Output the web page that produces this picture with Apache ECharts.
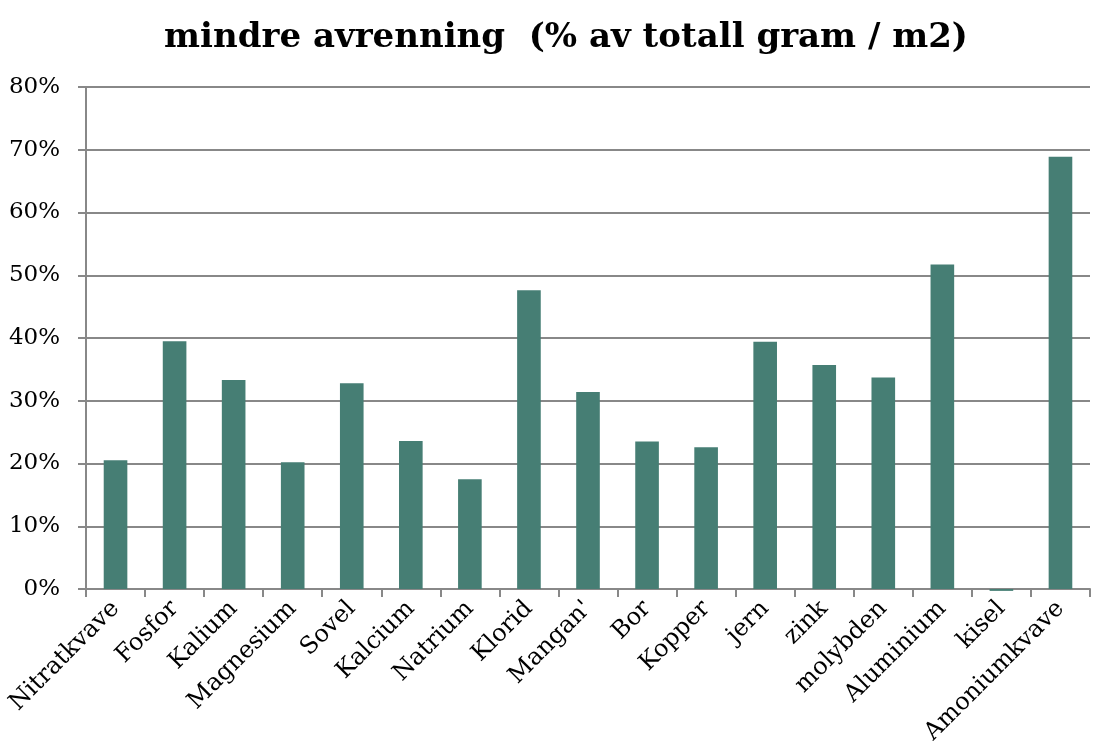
<!DOCTYPE html>
<html lang="en">
<head>
    <meta charset="UTF-8">
    <title>mindre avrenning</title>
    <script src="https://cdn.jsdelivr.net/npm/echarts@6/dist/echarts.min.js"></script>
    <style>
        html, body { margin: 0; padding: 0; background: #fff; }
    </style>
</head>
<body>
<div id="my" style="width: 1094px;height: 749px;"></div>
<script>
    // kategorier og verdier (% av totall gram / m2)
    var stoffer = ['Nitratkvave', 'Fosfor', 'Kalium', 'Magnesium', 'Sovel', 'Kalcium', 'Natrium', 'Klorid',
        "Mangan'", 'Bor', 'Kopper', 'jern', 'zink', 'molybden', 'Aluminium', 'kisel', 'Amoniumkvave']
    var verdier = [20.5, 39.5, 33.3, 20.2, 32.8, 23.6, 17.5, 47.6, 31.4, 23.5, 22.6, 39.4, 35.7, 33.7, 51.7, -0.3, 68.9]

    var mCharts = echarts.init(document.getElementById('my'))
    var font = 'DejaVu Serif'
    var option = {
        animation: false,
        title: {
            text: 'mindre avrenning  (% av totall gram / m2)',
            left: 561,
            top: 16,
            textAlign: 'center',
            textStyle: { fontFamily: font, fontWeight: 'bold', fontSize: 34, color: '#000' }
        },
        grid: { left: 86, right: 4, top: 87, bottom: 160 },
        xAxis: {
            type: 'category',
            data: stoffer,
            axisLine: { lineStyle: { color: '#888', width: 2 } },
            axisTick: { show: true, length: 8, lineStyle: { color: '#888', width: 2 } },
            axisLabel: {
                rotate: 45,
                interval: 0,
                margin: 16,
                fontFamily: font,
                fontSize: 24,
                color: '#000'
            }
        },
        yAxis: {
            type: 'value',
            min: 0,
            max: 80,
            interval: 10,
            axisLine: { show: true, lineStyle: { color: '#888', width: 2 } },
            axisTick: { show: true, length: 8, lineStyle: { color: '#888', width: 2 } },
            splitLine: { lineStyle: { color: '#888', width: 2 } },
            axisLabel: {
                formatter: '{value}%',
                margin: 26,
                fontFamily: font,
                fontSize: 23,
                color: '#000'
            }
        },
        series: [{
            type: 'bar',
            data: verdier,
            barWidth: '40%',
            clip: false,
            itemStyle: { color: '#467E74' }
        }]
    }
    mCharts.setOption(option)
</script>
</body>
</html>
